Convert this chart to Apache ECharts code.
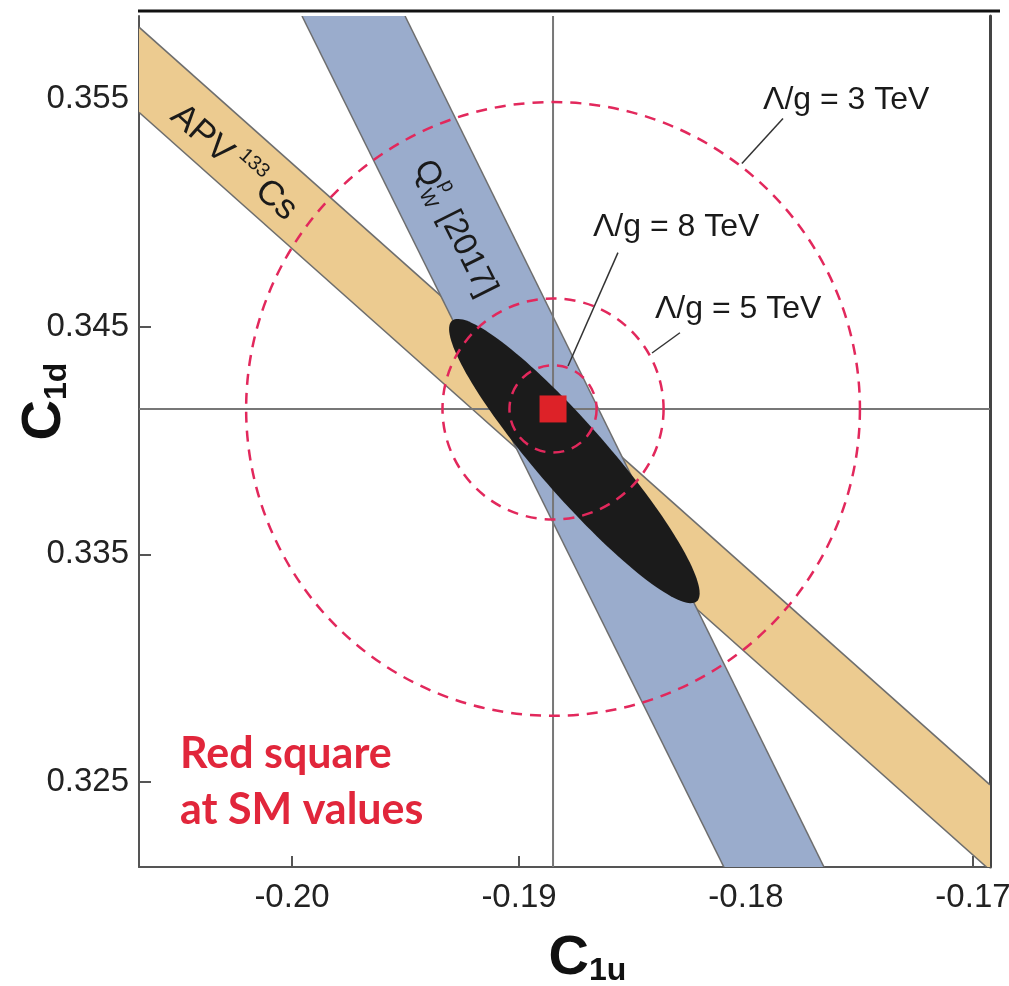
<!DOCTYPE html>
<html>
<head>
<meta charset="utf-8">
<script src="https://cdn.jsdelivr.net/npm/echarts@6/dist/echarts.min.js"></script>
<style>
  html, body { margin: 0; padding: 0; background: #fff; }
  #chart { width: 1009px; height: 986px; }
</style>
</head>
<body>
<div id="chart"></div>
<script>
// axis window and ticks
const xRange = [-0.20674, -0.16925];
const yRange = [0.32126, 0.35866];
const xTicks = [-0.20, -0.19, -0.18, -0.17];
const yTicks = [0.325, 0.335, 0.345, 0.355];

// Standard Model values (C1u, C1d)
const smPoint = [-0.1885, 0.34139];

// band edges, each as two [C1u, C1d] points
const apvUpper = [[-0.20674, 0.35817], [-0.16925, 0.32487]];
const apvLower = [[-0.20674, 0.35443], [-0.16925, 0.32112]];
const qwLeft = [[-0.19956, 0.35866], [-0.18093, 0.32117]];
const qwRight = [[-0.19502, 0.35866], [-0.17652, 0.32117]];

// combined fit ellipse: centre, semi-axes, tilt in degrees
const fitCenter = [-0.18756, 0.33910];
const fitAxes = [0.00819, 0.00155];
const fitAngle = -48.8;

// Λ/g contours around the SM point
const contourLabels = ['Λ/g = 3 TeV', 'Λ/g = 5 TeV', 'Λ/g = 8 TeV'];
const contourRadii = [0.01352, 0.00487, 0.00192];
const contourLabelPos = [[-0.17925, 0.35496], [-0.18401, 0.34579], [-0.18674, 0.34936]];
const leaderFrom = [[-0.17837, 0.35416], [-0.18291, 0.34474], [-0.18564, 0.34826]];
const leaderTo = [[-0.18018, 0.35218], [-0.18414, 0.34385], [-0.18784, 0.34328]];

// band label anchors (centre of text)
const apvLabelPos = [-0.2025, 0.35215];
const qwLabelPos = [-0.19282, 0.34932];

const FONT = '"Liberation Sans", Arial, Helvetica, sans-serif';

const txt = (x, y, text, size, extra) => ({
  type: 'text', x, y,
  style: Object.assign({
    text, font: size + 'px ' + FONT, fill: '#1a1a1a',
    align: 'left', verticalAlign: 'middle',
    textAlign: 'left', textVerticalAlign: 'middle'
  }, extra || {})
});

function bandSeries(edgeA, edgeB, color) {
  return {
    type: 'custom', z: 1, clip: true, silent: true,
    data: [smPoint],
    renderItem: (params, api) => {
      const a = edgeA.map(p => api.coord(p));
      const b = edgeB.map(p => api.coord(p));
      const edge = (p, q) => ({
        type: 'line',
        shape: { x1: p[0], y1: p[1], x2: q[0], y2: q[1] },
        style: { stroke: '#6e6e6e', lineWidth: 1.5 }
      });
      return {
        type: 'group',
        children: [
          { type: 'polygon', shape: { points: [a[0], a[1], b[1], b[0]] }, style: { fill: color } },
          edge(a[0], a[1]),
          edge(b[0], b[1])
        ]
      };
    }
  };
}

const axisNameRich = {
  m: { fontSize: 56, fontWeight: 'bold', fontFamily: FONT, color: '#111', lineHeight: 56 },
  s: { fontSize: 32, fontWeight: 'bold', fontFamily: FONT, color: '#111', lineHeight: 32, verticalAlign: 'bottom' }
};

const chart = echarts.init(document.getElementById('chart'));

const option = {
  backgroundColor: '#fff',
  animation: false,
  grid: { left: 139, right: 19, top: 16, bottom: 119, outerBoundsMode: 'none', containLabel: false },
  xAxis: {
    type: 'value', min: xRange[0], max: xRange[1],
    name: '{m|C}{s|1u}',
    nameLocation: 'middle', nameGap: 64, nameMoveOverlap: false,
    nameTextStyle: { padding: [0, 0, 0, 46], rich: axisNameRich },
    axisLine: { lineStyle: { color: '#555', width: 2 } },
    axisTick: { inside: true, length: 11, customValues: xTicks, lineStyle: { color: '#555', width: 2 } },
    axisLabel: {
      customValues: xTicks, margin: 14, fontSize: 33, fontFamily: FONT, color: '#222',
      formatter: v => v.toFixed(2)
    },
    splitLine: { show: false }
  },
  yAxis: [{
    type: 'value', min: yRange[0], max: yRange[1],
    name: '{m|C}{s|1d}',
    nameLocation: 'middle', nameGap: 66, nameRotate: 90, nameMoveOverlap: false,
    nameTextStyle: { padding: [0, 0, 0, 80], rich: axisNameRich },
    axisLine: { lineStyle: { color: '#555', width: 2 } },
    axisTick: { inside: true, length: 12, customValues: yTicks, lineStyle: { color: '#555', width: 2 } },
    axisLabel: {
      customValues: yTicks, margin: 10, fontSize: 33, fontFamily: FONT, color: '#222',
      formatter: v => v.toFixed(3)
    },
    splitLine: { show: false }
  }, {
    type: 'value', position: 'right', min: yRange[0], max: yRange[1],
    axisLine: { show: true, lineStyle: { color: '#444', width: 3 } },
    axisTick: { show: false }, axisLabel: { show: false }, splitLine: { show: false }
  }],
  graphic: [
    { type: 'line', shape: { x1: 138, y1: 11, x2: 1000, y2: 11 }, style: { stroke: '#111', lineWidth: 3 }, z: 10 },
    {
      type: 'text', left: 180, top: 726, z: 10,
      style: {
        text: 'Red square\nat SM values',
        font: 'bold 43px Lato, "Open Sans", sans-serif',
        fill: '#e1263b', lineHeight: 56
      }
    }
  ],
  series: [
    bandSeries(apvUpper, apvLower, '#eccb90'),
    bandSeries(qwLeft, qwRight, '#9aaccc'),
    {
      // SM reference lines
      type: 'custom', z: 2, silent: true, clip: true,
      data: [smPoint],
      renderItem: (params, api) => {
        const x = api.value(0), y = api.value(1);
        const v0 = api.coord([x, yRange[0]]), v1 = api.coord([x, yRange[1]]);
        const h0 = api.coord([xRange[0], y]), h1 = api.coord([xRange[1], y]);
        const st = { stroke: '#777', lineWidth: 2 };
        return {
          type: 'group',
          children: [
            { type: 'line', shape: { x1: v0[0], y1: v0[1], x2: v1[0], y2: v1[1] }, style: st },
            { type: 'line', shape: { x1: h0[0], y1: h0[1], x2: h1[0], y2: h1[1] }, style: st }
          ]
        };
      }
    },
    {
      // combined fit ellipse
      type: 'custom', z: 3, silent: true,
      data: [fitCenter],
      renderItem: (params, api) => {
        const th = fitAngle * Math.PI / 180;
        const u = [Math.cos(th), Math.sin(th)];
        const w = [-Math.sin(th), Math.cos(th)];
        const pts = [];
        for (let i = 0; i < 144; i++) {
          const t = i / 144 * 2 * Math.PI;
          const ca = fitAxes[0] * Math.cos(t), sb = fitAxes[1] * Math.sin(t);
          pts.push(api.coord([
            api.value(0) + ca * u[0] + sb * w[0],
            api.value(1) + ca * u[1] + sb * w[1]
          ]));
        }
        return { type: 'polygon', shape: { points: pts }, style: { fill: '#1b1b1b' } };
      }
    },
    {
      // dashed Λ/g contours
      type: 'custom', z: 4, silent: true,
      data: contourRadii.map(r => [smPoint[0], smPoint[1], r]),
      renderItem: (params, api) => {
        const c = api.coord([api.value(0), api.value(1)]);
        const r = api.size([api.value(2), 0])[0];
        return {
          type: 'circle', shape: { cx: c[0], cy: c[1], r },
          style: { fill: 'none', stroke: '#e2285c', lineWidth: 2.5, lineDash: [11, 8] }
        };
      }
    },
    {
      // contour labels with leader lines
      type: 'custom', z: 5, silent: true,
      data: contourLabels.map((t, i) => [contourLabelPos[i][0], contourLabelPos[i][1], i]),
      renderItem: (params, api) => {
        const i = api.value(2);
        const p = api.coord([api.value(0), api.value(1)]);
        const a = api.coord(leaderFrom[i]), b = api.coord(leaderTo[i]);
        return {
          type: 'group',
          children: [
            { type: 'line', shape: { x1: a[0], y1: a[1], x2: b[0], y2: b[1] }, style: { stroke: '#333', lineWidth: 1.5 } },
            txt(p[0], p[1], contourLabels[i], 32)
          ]
        };
      }
    },
    {
      // band labels, rotated along the bands
      type: 'custom', z: 5, silent: true,
      data: [apvLabelPos],
      renderItem: (params, api) => {
        const p = api.coord([api.value(0), api.value(1)]);
        return {
          type: 'group', x: p[0], y: p[1], rotation: -41.6 * Math.PI / 180,
          children: [
            txt(-80, 0, 'APV', 35),
            txt(-3, -13, '133', 20),
            txt(33, 0, 'Cs', 35)
          ]
        };
      }
    },
    {
      type: 'custom', z: 5, silent: true,
      data: [qwLabelPos],
      renderItem: (params, api) => {
        const p = api.coord([api.value(0), api.value(1)]);
        return {
          type: 'group', x: p[0], y: p[1], rotation: -63.5 * Math.PI / 180,
          children: [
            txt(-74, 0, 'Q', 33),
            txt(-47, -12, 'p', 20),
            txt(-48, 11, 'W', 20),
            txt(-18, 0, '[2017]', 33)
          ]
        };
      }
    },
    {
      // SM point
      type: 'scatter', z: 6, silent: true,
      symbol: 'rect', symbolSize: 27,
      itemStyle: { color: '#dd2228', opacity: 1 },
      data: [smPoint]
    }
  ]
};

chart.setOption(option);
</script>
</body>
</html>
